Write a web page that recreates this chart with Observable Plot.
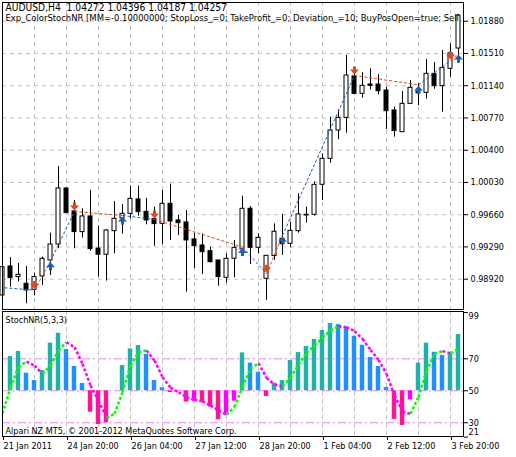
<!DOCTYPE html>
<html><head><meta charset="utf-8">
<script src="https://cdn.jsdelivr.net/npm/d3@7"></script>
<script src="https://cdn.jsdelivr.net/npm/@observablehq/plot@0.6"></script>
<style>
body{margin:0;background:#fff;}
#chart{position:relative;width:516px;height:457px;overflow:hidden;background:#fff;}
#chart svg{position:absolute;left:0;}
</style></head><body><div id="chart"></div>
<script>
// ---------- data ----------
const barIndex = d3.range(58);
const open  = [0.98733,0.99066,0.98944,0.98867,0.98798,0.98951,0.99135,0.99318,0.99961,0.99697,0.99460,0.99640,0.99272,0.99200,0.99471,0.99617,0.99670,0.99835,0.99693,0.99609,0.99555,0.99785,0.99594,0.99571,0.99376,0.99307,0.99242,0.99135,0.98936,0.99154,0.99261,0.99728,0.99280,0.98924,0.99185,0.99383,0.99326,0.99471,0.99659,0.99659,1.00003,1.00301,1.00626,1.00771,1.01246,1.01047,1.01154,1.01154,1.01085,1.00856,1.00607,1.00932,1.01054,1.01058,1.01276,1.01135,1.01334,1.01567];
const high  = [0.99077,0.99169,0.99100,0.99066,0.98989,0.99173,0.99448,1.00213,0.99961,0.99823,0.99728,0.99938,0.99529,0.99490,0.99812,0.99777,0.99988,0.99988,0.99846,0.99747,0.99938,1.00011,0.99651,0.99708,0.99448,0.99441,0.99288,0.99135,0.99211,0.99364,0.99873,0.99754,0.99441,0.99188,0.99555,0.99663,0.99571,0.99900,0.99747,1.00037,1.00358,1.00779,1.00863,1.01487,1.01276,1.01288,1.01334,1.01269,1.01123,1.00894,1.01074,1.01200,1.01162,1.01441,1.01406,1.01544,1.01621,1.01957];
const low   = [0.98714,0.98829,0.98886,0.98638,0.98729,0.98848,0.98963,0.99269,0.99678,0.99269,0.99391,0.99242,0.98944,0.98898,0.99211,0.99437,0.99613,0.99643,0.99544,0.99299,0.99318,0.99364,0.99422,0.98772,0.99043,0.98974,0.99104,0.98840,0.98875,0.98936,0.99257,0.99089,0.99211,0.98676,0.99135,0.99192,0.99280,0.99448,0.99563,0.99643,0.99823,1.00251,1.00519,1.00596,1.01035,1.00997,1.01093,1.01035,1.00638,1.00550,1.00607,1.00932,1.00913,1.00986,1.01100,1.00836,1.01238,1.01395];
const close = [0.99058,0.98932,0.98970,0.98791,0.98944,0.99154,0.99318,0.99961,0.99678,0.99460,0.99640,0.99265,0.99200,0.99479,0.99613,0.99670,0.99842,0.99689,0.99594,0.99552,0.99785,0.99582,0.99563,0.99364,0.99299,0.99230,0.99116,0.98944,0.99154,0.99280,0.99728,0.99280,0.99395,0.99188,0.99464,0.99322,0.99475,0.99663,0.99651,1.00003,1.00301,1.00626,1.00771,1.01257,1.01047,1.01139,1.01139,1.01077,1.00848,1.00619,1.00932,1.01116,1.01066,1.01276,1.01135,1.01345,1.01513,1.01945];

const priceTicks = [1.01880,1.01510,1.01140,1.00770,1.00400,1.00030,0.99660,0.99290,0.98920];
const gridIdx = [4,8,12,16,20,24,28,32,36,40,44,48,52,56];
const timeTickIdx = [0,8,16,24,32,40,48,56];
const timeTickLabels = ["21 Jan 2011","24 Jan 20:00","26 Jan 04:00","27 Jan 12:00","28 Jan 20:00","1 Feb 04:00","2 Feb 12:00","3 Feb 20:00"];

// trade deals (bar index, price, direction)
const dealIdx   = [-1, 4, 6, 9, 15, 19, 30, 33, 35, 44, 52, 56, 57];
const dealPrice = [0.98830,0.98795,0.99127,0.99697,0.99651,0.99605,0.99288,0.98982,0.99422,1.01257,1.01150,1.01429,1.01510];
const dealType  = ["buy","sell","buy","sell","buy","sell","buy","sell","buy","sell","buy","sell","buy"];

// StochNR histogram and signal line
const histValue = [null,71.4,74.6,61.0,56.4,62.7,79.8,86.0,75.8,65.2,54.6,36.6,28.9,30.0,null,65.8,76.2,78.3,72.7,56.4,51.9,48.9,null,42.9,43.5,42.9,39.8,31.9,34.6,43.5,73.7,67.3,61.6,46.4,54.8,56.4,68.9,73.9,77.7,82.1,87.7,92.1,91.4,88.9,84.1,78.5,70.8,65.2,52.1,32.1,28.3,44.4,67.3,79.8,74.1,72.1,73.1,85.2];
const histColor = ["","T","T","B","B","T","T","T","B","B","B","P","P","P","","T","T","T","B","B","B","P","","P","M","P","P","P","M","M","T","B","B","P","T","T","T","T","T","T","T","T","B","B","B","B","B","B","B","P","P","M","T","T","B","B","T","T"];
const signalValue = [35.8,52.0,64.8,68.3,65.8,60.6,65.8,75.2,80.4,77.3,66.9,53.3,43.9,33.1,35.6,49.1,65.8,74.1,75.2,68.9,58.5,52.0,49.1,46.0,44.4,43.4,40.8,37.7,35.0,39.8,52.3,63.7,67.3,58.1,53.9,52.7,58.1,66.4,73.5,78.3,83.1,87.7,90.3,89.8,87.3,82.5,75.6,69.4,60.6,47.1,37.1,35.6,46.0,62.3,73.1,74.8,73.5,76.3];
const stochLevels = [70,50,30];
const stochTicks = [99,70,50,30,21];

// ---------- styling ----------
const FONT = '"DejaVu Sans Condensed","DejaVu Sans",sans-serif';
const GRID = "#c0c0c0";
const SELL = "#e8431a", BUY = "#1a5fb4";
const histPalette = {T:"#20b2aa", B:"#1e90ff", P:"#ff1493", M:"#ff00ff"};

const bars = barIndex.map(i => ({i, open:open[i], high:high[i], low:low[i], close:close[i]}));
const deals = dealIdx.map((i,k)=>({i, p:dealPrice[k], t:dealType[k]}));
const dealLinks = deals.slice(1).map((d,k)=>({i1:deals[k].i, p1:deals[k].p, i2:d.i, p2:d.p, t:deals[k].t}));

const arrowDown = {draw(c){c.moveTo(-1.5,-9);c.lineTo(1.5,-9);c.lineTo(1.5,-6);c.lineTo(4.5,-6);c.lineTo(0,-1);c.lineTo(-4.5,-6);c.lineTo(-1.5,-6);c.closePath();}};
const arrowUp = {draw(c){c.moveTo(-1.5,9);c.lineTo(1.5,9);c.lineTo(1.5,6);c.lineTo(4.5,6);c.lineTo(0,1);c.lineTo(-4.5,6);c.lineTo(-1.5,6);c.closePath();}};

const hdr1 = "AUDUSD,H4  1.04272 1.04396 1.04187 1.04257";
const hdr2 = "Exp_ColorStochNR [MM=-0.10000000; StopLoss_=0; TakeProfit_=0; Deviation_=10; BuyPosOpen=true; Sell";

const XD = [0, 57.625];

const topPlot = Plot.plot({
  width: 516, height: 310,
  marginLeft: 2, marginRight: 53, marginTop: 2, marginBottom: 1,
  x: {domain: XD, axis: null},
  y: {domain: [0.98572, 1.02095], axis: null},
  color: {type: "identity"},
  style: {fontFamily: FONT, fontSize: "9px", background: "white", color: "black", overflow: "visible"},
  marks: [
    Plot.gridX(gridIdx, {stroke: GRID, strokeOpacity: 1, strokeDasharray: "4,4"}),
    Plot.gridY(priceTicks, {stroke: GRID, strokeOpacity: 1, strokeDasharray: "4,4"}),
    Plot.ruleX(bars, {x: "i", y1: "low", y2: "high", stroke: "black", strokeWidth: 1}),
    Plot.rect(bars, {x1: d => d.i - 0.25, x2: d => d.i + 0.25, y1: "open", y2: "close",
      fill: d => d.close >= d.open ? "white" : "black", stroke: "black", strokeWidth: 1}),
    Plot.link(dealLinks, {x1: "i1", y1: "p1", x2: "i2", y2: "p2", stroke: d => d.t === "buy" ? BUY : SELL,
      strokeWidth: 1, strokeDasharray: "3,2", clip: true}),
    Plot.dot(deals.filter(d => d.t === "sell" && d.i >= 0), {x: "i", y: "p", symbol: arrowDown, fill: SELL, stroke: "none", r: 4}),
    Plot.dot(deals.filter(d => d.t === "buy" && d.i >= 0), {x: "i", y: "p", symbol: arrowUp, fill: BUY, stroke: "none", r: 4}),
    Plot.frame({stroke: "black"}),
    Plot.axisY(priceTicks, {anchor: "right", tickSize: 4, tickPadding: 3, tickFormat: d => d.toFixed(5), fontSize: 9}),
    Plot.text([hdr1], {frameAnchor: "top-left", dx: 3, dy: 1.2, lineAnchor: "top", fontSize: 10.2, textAnchor: "start"}),
    Plot.text([hdr2], {frameAnchor: "top-left", dx: 3, dy: 12, lineAnchor: "top", fontSize: 9.4, textAnchor: "start", clip: true})
  ]
});
topPlot.style.top = "0px";

const hist = barIndex.filter(i => histValue[i] != null).map(i => ({i, v: histValue[i], c: histPalette[histColor[i]]}));
const sigLinks = barIndex.slice(1).map(i => ({i1: i-1, s1: signalValue[i-1], i2: i, s2: signalValue[i],
  c: signalValue[i] >= signalValue[i-1] ? "#00ff00" : "#ff00ff"}));

const botPlot = Plot.plot({
  width: 516, height: 147,
  marginLeft: 2, marginRight: 53, marginTop: 1, marginBottom: 21,
  x: {domain: XD, axis: null},
  y: {domain: [21.4, 99.6], axis: null},
  color: {type: "identity"},
  style: {fontFamily: FONT, fontSize: "9px", background: "transparent", color: "black", overflow: "visible"},
  marks: [
    Plot.gridX(gridIdx, {stroke: GRID, strokeOpacity: 1, strokeDasharray: "4,4"}),
    Plot.ruleY(stochLevels, {stroke: "#f47ff4", strokeDasharray: "8,3,2,3"}),
    Plot.rect(hist, {x1: d => d.i - 0.28, x2: d => d.i + 0.28, y1: () => 50, y2: "v", fill: "c"}),
    Plot.link(sigLinks, {x1: "i1", y1: "s1", x2: "i2", y2: "s2", stroke: "c", strokeWidth: 2.5, strokeDasharray: "3,2", clip: true}),
    Plot.frame({stroke: "black"}),
    Plot.axisY(stochTicks, {anchor: "right", tickSize: 4, tickFormat: () => ""}),
    Plot.text(stochTicks.slice(1, 4), {y: d => d, text: d => String(d), frameAnchor: "right", dx: 5, textAnchor: "start", fontSize: 9}),
    Plot.text(stochTicks.slice(0, 1), {y: d => d, text: d => String(d), frameAnchor: "right", dx: 5, dy: 4, textAnchor: "start", fontSize: 9}),
    Plot.text(stochTicks.slice(4), {y: d => d, text: d => String(d), frameAnchor: "right", dx: 5, dy: -5, textAnchor: "start", fontSize: 9}),
    Plot.axisX(timeTickIdx, {anchor: "bottom", tickSize: 4, tickPadding: 2, textAnchor: "start", dx: 1,
      tickFormat: d => timeTickLabels[timeTickIdx.indexOf(d)], fontSize: 9}),
    Plot.text(["StochNR(5,3,3)"], {frameAnchor: "top-left", dx: 3, dy: 5, lineAnchor: "top", fontSize: 9}),
    Plot.text(["Alpari NZ MT5, \u00a9 2001-2012 MetaQuotes Software Corp."], {frameAnchor: "bottom-left", dx: 3, dy: -3, lineAnchor: "bottom", fontSize: 9})
  ]
});
botPlot.style.top = "310px";

const root = document.getElementById("chart");
root.appendChild(topPlot);
root.appendChild(botPlot);
</script></body></html>
